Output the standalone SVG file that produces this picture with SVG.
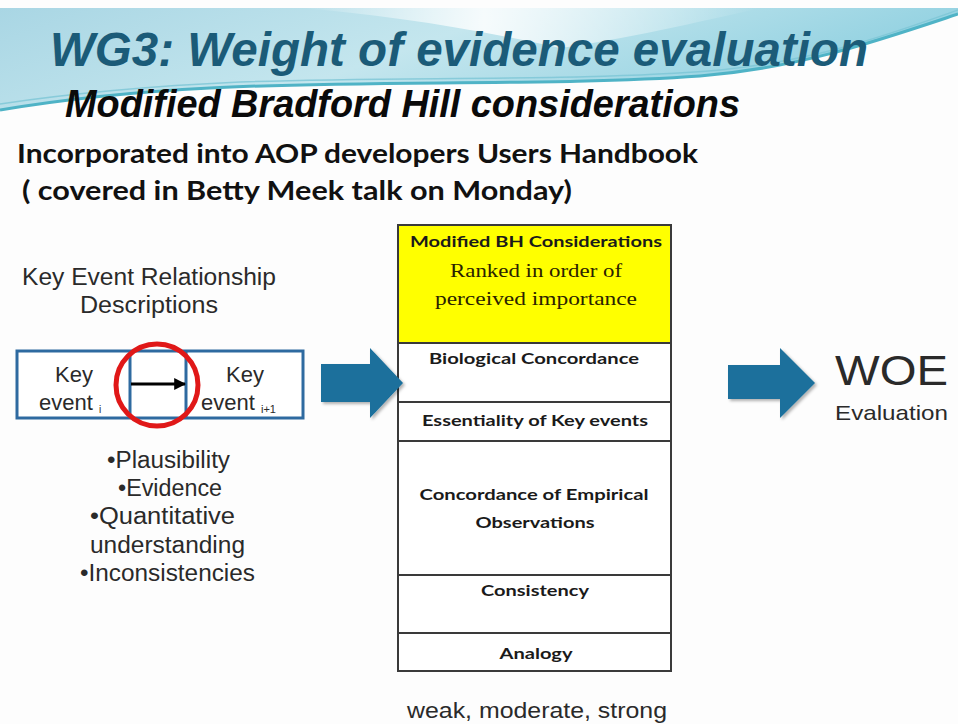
<svg xmlns="http://www.w3.org/2000/svg" width="958" height="724" viewBox="0 0 958 724">
<style>
.ttl{font-family:"Liberation Sans",Arial,sans-serif;font-weight:bold;font-style:italic}
.hdr{font-family:Lato,"Open Sans",sans-serif;font-weight:bold;fill:#111}
.ar{font-family:"Liberation Sans",Arial,sans-serif;fill:#2a2a2a}
.bl{font-family:"Liberation Sans",Arial,sans-serif;fill:#2a2a2a;font-size:23px}
.cb{font-family:Lato,"Open Sans",sans-serif;font-weight:bold;fill:#1a1a1a;font-size:16px;text-anchor:middle}
.sf{font-family:"Liberation Serif","Times New Roman",serif;fill:#2a2200;font-size:19px;text-anchor:middle}
.row{fill:#ffffff;stroke:#3a3a3a;stroke-width:2}
.blk{fill:#1a6f9c}
</style>
<defs>
<linearGradient id="sky" x1="0" y1="0" x2="1" y2="0.3">
<stop offset="0" stop-color="#a9d6e4"/>
<stop offset="0.5" stop-color="#c4e6ee"/>
<stop offset="1" stop-color="#8fd0e0"/>
</linearGradient>
<linearGradient id="swoosh" x1="0" y1="0" x2="1" y2="0">
<stop offset="0" stop-color="#ffffff" stop-opacity="0"/>
<stop offset="0.4" stop-color="#ffffff" stop-opacity="0.85"/>
<stop offset="1" stop-color="#ffffff" stop-opacity="0"/>
</linearGradient>
<marker id="ah" viewBox="0 0 10 10" refX="9" refY="5" markerWidth="4" markerHeight="4" orient="auto">
<path d="M0,0 L10,5 L0,10 Z" fill="#000"/>
</marker>
<filter id="sh" x="-10%" y="-10%" width="130%" height="130%">
<feDropShadow dx="2" dy="2" stdDeviation="1.5" flood-color="#000" flood-opacity="0.3"/>
</filter>
</defs>
<rect width="958" height="724" fill="#fdfdfd"/>
<g id="header-band">
<path d="M0,8 H958 V14 C880,40 800,68 700,76 C560,86 360,80 210,88 C130,92 60,100 0,110 Z" fill="url(#sky)"/>
<path d="M300,8 C380,14 470,28 560,48 C620,40 700,22 760,8 Z" fill="url(#swoosh)"/>
<path d="M0,110 C60,100 130,92 210,88 C360,80 560,86 700,76 C800,68 880,40 958,14" fill="none" stroke="#4fb3c6" stroke-width="3"/>
<path d="M0,104 C80,92 150,86 240,82 C400,76 580,82 720,70 C820,60 890,34 958,10" fill="none" stroke="#7cc6d6" stroke-width="1.5" opacity="0.8"/>
</g>
<g id="title">
<text class="ttl" x="50" y="66" font-size="48" fill="#1b5b78" textLength="818" lengthAdjust="spacingAndGlyphs">WG3: Weight of evidence evaluation</text>
</g>
<g id="subtitle">
<text class="ttl" x="65" y="117" font-size="39" fill="#0a0a0a" textLength="675" lengthAdjust="spacingAndGlyphs">Modified Bradford Hill considerations</text>
</g>
<g id="intro">
<text class="hdr" x="17" y="163" font-size="27" textLength="681" lengthAdjust="spacingAndGlyphs">Incorporated into AOP developers Users Handbook</text>
<text class="hdr" x="22" y="200" font-size="27" textLength="550" lengthAdjust="spacingAndGlyphs">( covered in Betty Meek talk on Monday)</text>
</g>
<g id="ker-label">
<text class="ar" x="149" y="285" font-size="23" text-anchor="middle" textLength="254" lengthAdjust="spacingAndGlyphs">Key Event Relationship</text>
<text class="ar" x="149" y="313" font-size="23" text-anchor="middle" textLength="138" lengthAdjust="spacingAndGlyphs">Descriptions</text>
</g>
<g id="key-events">
<rect x="17" y="351" width="286" height="67" fill="#ffffff" stroke="#2e6aa0" stroke-width="3"/>
<line x1="130" y1="351" x2="130" y2="418" stroke="#2e6aa0" stroke-width="3"/>
<line x1="186" y1="351" x2="186" y2="418" stroke="#2e6aa0" stroke-width="3"/>
<text class="ar" x="74" y="382" font-size="22" text-anchor="middle">Key</text>
<text class="ar" x="39" y="410" font-size="22">event <tspan font-size="10" dy="3">i</tspan></text>
<text class="ar" x="245" y="382" font-size="22" text-anchor="middle">Key</text>
<text class="ar" x="201" y="410" font-size="22">event <tspan font-size="11" dy="3">i+1</tspan></text>
</g>
<g id="bullets">
<text class="bl" x="107" y="468" textLength="123" lengthAdjust="spacingAndGlyphs">•Plausibility</text>
<text class="bl" x="118" y="496" textLength="104" lengthAdjust="spacingAndGlyphs">•Evidence</text>
<text class="bl" x="90" y="524" textLength="145" lengthAdjust="spacingAndGlyphs">•Quantitative</text>
<text class="bl" x="90" y="553" textLength="155" lengthAdjust="spacingAndGlyphs">understanding</text>
<text class="bl" x="80" y="581" textLength="175" lengthAdjust="spacingAndGlyphs">•Inconsistencies</text>
</g>
<g id="table">
<rect x="398" y="225" width="273" height="118" fill="#ffff00" stroke="#3a3a3a" stroke-width="2"/>
<rect class="row" x="398" y="343" width="273" height="59"/>
<rect class="row" x="398" y="402" width="273" height="39"/>
<rect class="row" x="398" y="441" width="273" height="134"/>
<rect class="row" x="398" y="575" width="273" height="58"/>
<rect class="row" x="398" y="633" width="273" height="38"/>
<text class="cb" x="536" y="247" textLength="252" lengthAdjust="spacingAndGlyphs">Modified BH Considerations</text>
<text class="sf" x="536" y="277" textLength="172" lengthAdjust="spacingAndGlyphs">Ranked in order of</text>
<text class="sf" x="536" y="305" textLength="202" lengthAdjust="spacingAndGlyphs">perceived importance</text>
<text class="cb" x="534" y="364" textLength="210" lengthAdjust="spacingAndGlyphs">Biological Concordance</text>
<text class="cb" x="535" y="426" textLength="226" lengthAdjust="spacingAndGlyphs">Essentiality of Key events</text>
<text class="cb" x="534" y="500" textLength="229" lengthAdjust="spacingAndGlyphs">Concordance of Empirical</text>
<text class="cb" x="535" y="528" textLength="119" lengthAdjust="spacingAndGlyphs">Observations</text>
<text class="cb" x="535" y="596" textLength="108" lengthAdjust="spacingAndGlyphs">Consistency</text>
<text class="cb" x="536" y="659" textLength="73" lengthAdjust="spacingAndGlyphs">Analogy</text>
</g>
<g id="strength-scale">
<text class="ar" x="537" y="718" font-size="22" text-anchor="middle" textLength="260" lengthAdjust="spacingAndGlyphs">weak, moderate, strong</text>
</g>
<g id="woe">
<text class="ar" x="835" y="385" font-size="42" fill="#111" textLength="113" lengthAdjust="spacingAndGlyphs">WOE</text>
<text class="ar" x="835" y="420" font-size="21" textLength="113" lengthAdjust="spacingAndGlyphs">Evaluation</text>
</g>
<g id="connectors">
<line x1="131" y1="384" x2="185" y2="384" stroke="#000" stroke-width="3" marker-end="url(#ah)"/>
<circle cx="157" cy="385" r="41" fill="none" stroke="#e01818" stroke-width="5"/>
<path class="blk" filter="url(#sh)" d="M321,364 H370 V348 L403,383 L370,418 V402 H321 Z"/>
<path class="blk" filter="url(#sh)" d="M728,365 H780 V348 L815,383 L780,418 V399 H728 Z"/>
</g>
</svg>
